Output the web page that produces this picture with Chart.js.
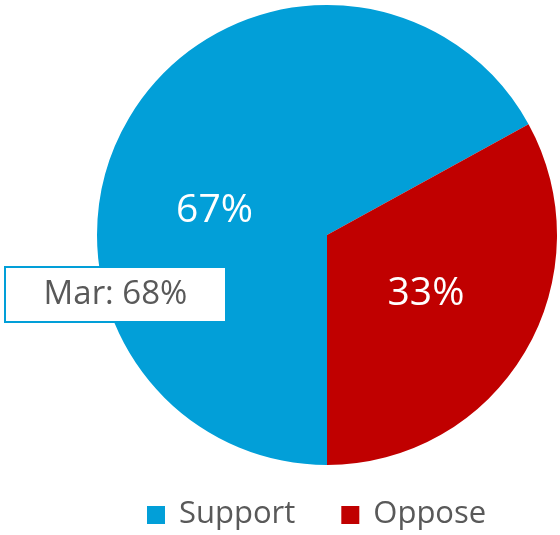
<!DOCTYPE html>
<html lang="en">
<head>
  <meta charset="UTF-8">
  <title>Support vs Oppose</title>
  <script src="https://cdn.jsdelivr.net/npm/chart.js"></script>
  <style>
    html, body { margin: 0; padding: 0; background: #fff; }
    #pie { display: block; }
  </style>
</head>
<body>
  <canvas id="pie" width="560" height="535"></canvas>

  <script>
    // chart values
    const labels = ['Support', 'Oppose'];
    const shares = [67, 33];
    const colors = ['#029FD8', '#C00000'];
    const previousNote = 'Mar: 68%';

    const font = '"Open Sans", "Noto Sans", sans-serif';
    const textGray = '#595959';

    // percentage labels inside the slices
    const sliceLabels = {
      id: 'sliceLabels',
      afterDatasetsDraw(chart) {
        const ctx = chart.ctx;
        const arcs = chart.getDatasetMeta(0).data;
        ctx.save();
        ctx.fillStyle = '#fff';
        ctx.font = '39px ' + font;
        ctx.textAlign = 'center';
        ctx.textBaseline = 'middle';
        arcs.forEach((arc, i) => {
          let angle = (arc.startAngle + arc.endAngle) / 2;
          let r = arc.outerRadius * 0.5;
          if (i === 0) {
            // Support label sits left of centre, nudged up above the note box
            angle = Math.PI + 0.21;
            r = arc.outerRadius * 0.5;
          }
          ctx.fillText(shares[i] + '%', arc.x + Math.cos(angle) * r, arc.y + Math.sin(angle) * r);
        });
        ctx.restore();
      }
    };

    // the "Mar" callout box
    const noteBox = {
      id: 'noteBox',
      afterDraw(chart) {
        const ctx = chart.ctx;
        ctx.save();
        ctx.fillStyle = '#fff';
        ctx.fillRect(5, 267, 221, 55);
        ctx.strokeStyle = colors[0];
        ctx.lineWidth = 2;
        ctx.strokeRect(5, 267, 221, 55);
        ctx.fillStyle = textGray;
        ctx.font = '33px ' + font;
        ctx.textAlign = 'center';
        ctx.textBaseline = 'middle';
        ctx.fillText(previousNote, 115.5, 295);
        ctx.restore();
      }
    };

    // legend drawn by hand so spacing matches
    const bottomLegend = {
      id: 'bottomLegend',
      afterDraw(chart) {
        const ctx = chart.ctx;
        ctx.save();
        ctx.font = '31px ' + font;
        ctx.textBaseline = 'middle';
        let x = 147;
        const y = 515;
        chart.data.labels.forEach((label, i) => {
          ctx.fillStyle = chart.data.datasets[0].backgroundColor[i];
          ctx.fillRect(x, y - 9, 18, 18);
          x += 32;
          ctx.fillStyle = textGray;
          ctx.fillText(label, x, y - 1);
          x += ctx.measureText(label).width + 46;
        });
        ctx.restore();
      }
    };

    const ctx = document.getElementById('pie').getContext('2d');
    const pie = new Chart(ctx, {
      type: 'pie',
      data: {
        labels: labels,
        datasets: [{
          data: shares,
          backgroundColor: colors,
          borderWidth: 0
        }]
      },
      options: {
        responsive: false,
        animation: false,
        rotation: 180,
        layout: {
          padding: { left: 97, right: 3, top: 5, bottom: 70 }
        },
        plugins: {
          legend: { display: false },
          tooltip: { enabled: false }
        }
      },
      plugins: [sliceLabels, noteBox, bottomLegend]
    });
  </script>
</body>
</html>
